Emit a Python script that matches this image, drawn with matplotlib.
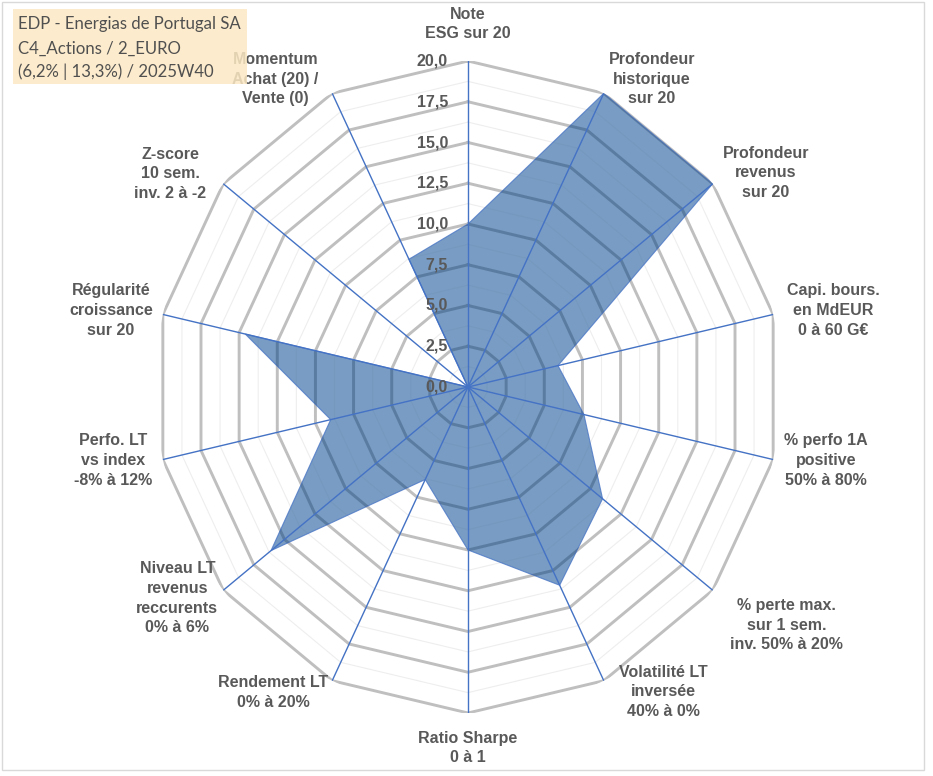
import numpy as np
import matplotlib
matplotlib.use("Agg")
from matplotlib import pyplot as plt
from matplotlib.patches import Rectangle

# chart data
categories = [
    "Note\nESG sur 20",
    "Profondeur\nhistorique\nsur 20",
    "Profondeur\nrevenus\nsur 20",
    "Capi. bours.\nen MdEUR\n0 à 60 G€",
    "% perfo 1A\npositive\n50% à 80%",
    "% perte max.\nsur 1 sem.\ninv. 50% à 20%",
    "Volatilité LT\ninversée\n40% à 0%",
    "Ratio Sharpe\n0 à 1",
    "Rendement LT\n0% à 20%",
    "Niveau LT\nrevenus\nreccurents\n0% à 6%",
    "Perfo. LT\nvs index\n-8% à 12%",
    "Régularité\ncroissance\nsur 20",
    "Z-score\n10 sem.\ninv. 2 à -2",
    "Momentum\nAchat (20) /\nVente (0)",
]
scores = [10.0, 20.0, 20.0, 5.9, 7.6, 11.0, 13.5, 10.0, 6.3, 16.1, 9.0, 14.6, 0.0, 8.7]
ring_ticks = [0.0, 2.5, 5.0, 7.5, 10.0, 12.5, 15.0, 17.5, 20.0]
title_lines = [
    "EDP - Energias de Portugal SA",
    "C4_Actions / 2_EURO",
    "(6,2% | 13,3%) / 2025W40",
]

# label offsets from the spoke ends, in pixels (x right, y down)
label_offsets = [
    (0, -37), (48, -14), (53, -11), (60, -4), (53, 1), (74, 35), (60, 11),
    (0, 35), (-59, 12), (-46, 8), (-50, 1), (-52, -4), (-53, -10), (-57, -14),
]

W, H = 933, 776
GREY_TXT = "#595959"
BLUE = "#4472C4"

plt.rcParams["font.family"] = ["Liberation Sans", "DejaVu Sans"]

fig = plt.figure(figsize=(W / 100, H / 100), dpi=100)
cx, cy, rx, ry = 468, 387, 313, 326
ax = fig.add_axes(
    [(cx - rx) / W, (H - cy - ry) / H, 2 * rx / W, 2 * ry / H], projection="polar"
)
ax.set_aspect("auto")
ax.set_theta_offset(np.pi / 2)
ax.set_theta_direction(-1)
ax.set_ylim(0, 20)
ax.grid(False)
ax.set_xticks([])
ax.set_yticks([])
ax.spines["polar"].set_visible(False)

n = len(categories)
theta = np.arange(n) * 2 * np.pi / n
closed_t = np.append(theta, theta[0])

# polygon grid: thin minor rings and thick major rings
for r in np.arange(1.25, 20, 2.5):
    ax.plot(closed_t, [r] * (n + 1), color="#EEEEEE", lw=0.8, zorder=1)
for r in ring_ticks[1:]:
    ax.plot(closed_t, [r] * (n + 1), color="#BFBFBF", lw=2.1, zorder=1)

# filled series
closed_v = np.append(scores, scores[0])
poly = ax.fill(closed_t, closed_v, facecolor="#4C7BB0", alpha=0.75,
               edgecolor=BLUE, lw=0.8, zorder=2)[0]

# grid seen through the fill
for r in ring_ticks[1:]:
    ln, = ax.plot(closed_t, [r] * (n + 1), color="#1F3550", alpha=0.18, lw=2.1, zorder=3)
    ln.set_clip_path(poly)

# spokes
for t in theta:
    ax.plot([t, t], [0, 20], color=BLUE, lw=1.0, zorder=4)

# radial values
for v in ring_ticks:
    ax.annotate(f"{v:.1f}".replace(".", ","), xy=(0, v), xytext=(-20, 0),
                textcoords="offset pixels", ha="right", va="center",
                fontsize=11.5, fontweight="bold", color=GREY_TXT, zorder=6)

# category labels
for t, lab, (dx, dy) in zip(theta, categories, label_offsets):
    ax.annotate(lab, xy=(t, 20), xytext=(dx, -dy), textcoords="offset pixels",
                ha="center", va="center", multialignment="center",
                fontsize=11.5, fontweight="bold", color=GREY_TXT,
                linespacing=1.38, annotation_clip=False, zorder=6)

# title box
fig.patches.append(Rectangle((13 / W, 1 - 84 / H), 234 / W, 75 / H,
                             transform=fig.transFigure, facecolor="#FCE8C3",
                             edgecolor="none", alpha=0.85, zorder=10))
for y, line in zip([24, 49, 72], title_lines):
    fig.text(18 / W, 1 - y / H, line, ha="left", va="center", fontsize=12.1,
             family=["Lato", "DejaVu Sans"], color="#505050", zorder=11)

# chart border
fig.patches.append(Rectangle((2 / W, 6 / H), 922 / W, 768 / H,
                             transform=fig.transFigure, facecolor="none",
                             edgecolor="#D9D9D9", lw=1.0, zorder=0))

fig.savefig("out.png", dpi=100, facecolor="white")
